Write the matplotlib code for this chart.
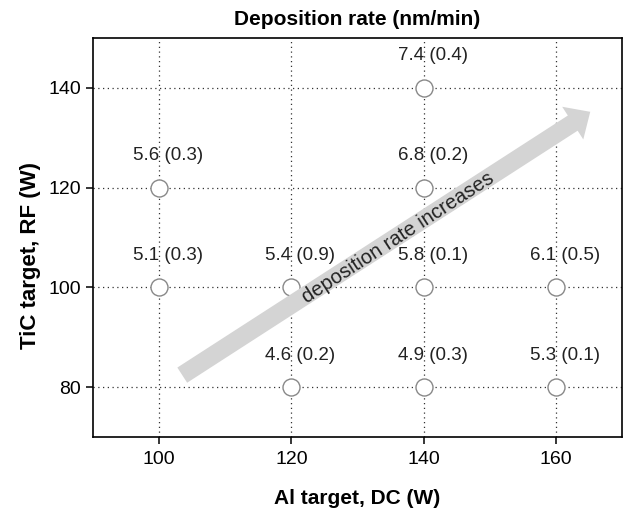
import matplotlib
matplotlib.use("Agg")
import matplotlib.pyplot as plt

plt.rcParams["font.family"] = ["Liberation Sans", "DejaVu Sans"]

# Deneysel noktalar
al_dc = [140, 100, 140, 100, 120, 140, 160, 120, 140, 160]
tic_rf = [140, 120, 120, 100, 100, 100, 100, 80, 80, 80]
rate = [7.4, 5.6, 6.8, 5.1, 5.4, 5.8, 6.1, 4.6, 4.9, 5.3]
rate_sd = [0.4, 0.3, 0.2, 0.3, 0.9, 0.1, 0.5, 0.2, 0.3, 0.1]

x_ticks = [100, 120, 140, 160]
y_ticks = [80, 100, 120, 140]

fig = plt.figure(figsize=(6.27, 5.08), dpi=100)
ax = fig.add_axes([0.1483, 0.1398, 0.8437, 0.7854])

ax.set_xlim(90, 170)
ax.set_ylim(70, 150)
ax.set_xticks(x_ticks)
ax.set_yticks(y_ticks)
ax.grid(True, linestyle=(0, (1, 2.8)), color="#333333", linewidth=0.9, zorder=0)
ax.set_axisbelow(True)

ax.scatter(al_dc, tic_rf, s=150, facecolor="white", edgecolor="#888888",
           linewidth=1.0, zorder=2)

# Ok isareti (artis yonu)
ax.annotate("", xy=(165.2, 135.2), xytext=(103.5, 82.4),
            arrowprops=dict(arrowstyle="simple,head_length=15,head_width=28,tail_width=13",
                            mutation_scale=1, fc="#d4d4d4", ec="none",
                            shrinkA=0, shrinkB=0),
            zorder=3)
ax.text(136.1, 109.9, "deposition rate increases", rotation=33.0,
        ha="center", va="center", rotation_mode="anchor",
        fontsize=14.5, color="#222222", zorder=5)

for x, y, r, s in zip(al_dc, tic_rf, rate, rate_sd):
    ax.annotate(f"{r} ({s})", (x, y), xytext=(6.5, 23), textcoords="offset points",
                ha="center", va="center", fontsize=13.5, color="#222222", zorder=5)

ax.tick_params(axis="both", direction="out", length=5, width=1.1, labelsize=14,
               top=False, right=False)
ax.tick_params(axis="x", pad=5)
ax.tick_params(axis="y", pad=3.5)
for sp in ax.spines.values():
    sp.set_linewidth(1.2)

ax.set_title("Deposition rate (nm/min)", fontsize=15, fontweight="bold", pad=9)
ax.set_xlabel("Al target, DC (W)", fontsize=15, fontweight="bold", va="center")
ax.set_ylabel("TiC target, RF (W)", fontsize=16, fontweight="bold", va="center")
ax.xaxis.set_label_coords(0.5, -0.153)
ax.yaxis.set_label_coords(-0.119, 0.456)

plt.savefig("out.png", dpi=100)
plt.close()
